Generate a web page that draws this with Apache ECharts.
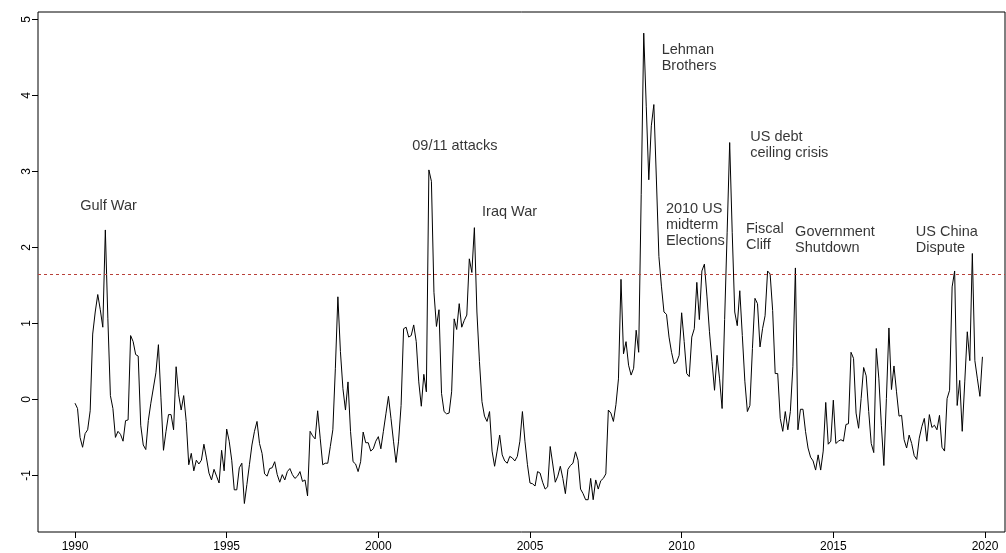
<!DOCTYPE html>
<html>
<head>
<meta charset="utf-8">
<script src="https://cdn.jsdelivr.net/npm/echarts@6/dist/echarts.min.js"></script>
<style>
  html, body { margin: 0; padding: 0; background: #fff; }
  #chart { width: 1006px; height: 553px; }
</style>
</head>
<body>
<div id="chart"></div>
<script>
// monthly index, Jan 1990 .. Dec 2019
var startYear = 1990;
var indexValues = [
  -0.05, -0.12, -0.5, -0.63, -0.45, -0.4, -0.15, 0.86, 1.15, 1.38, 1.18, 0.95,
  2.23, 1.06, 0.05, -0.12, -0.5, -0.42, -0.46, -0.55, -0.28, -0.27, 0.84, 0.76,
  0.59, 0.57, -0.34, -0.6, -0.66, -0.28, -0.05, 0.15, 0.35, 0.72, 0.02, -0.67,
  -0.42, -0.2, -0.2, -0.4, 0.43, 0.06, -0.14, 0.05, -0.29, -0.86, -0.71, -0.94,
  -0.8, -0.85, -0.8, -0.59, -0.77, -0.97, -1.06, -0.92, -1.01, -1.1, -0.67, -0.94,
  -0.39, -0.55, -0.8, -1.19, -1.19, -0.9, -0.84, -1.37, -1.12, -0.86, -0.6, -0.42,
  -0.29, -0.58, -0.71, -0.98, -1.01, -0.91, -0.9, -0.82, -0.99, -1.09, -0.99, -1.06,
  -0.95, -0.91, -0.99, -1.04, -1.01, -0.95, -1.08, -1.06, -1.27, -0.42, -0.48, -0.52,
  -0.15, -0.51, -0.86, -0.84, -0.84, -0.62, -0.4, 0.41, 1.35, 0.63, 0.14, -0.14,
  0.23, -0.42, -0.82, -0.85, -0.95, -0.82, -0.43, -0.57, -0.57, -0.68, -0.65, -0.55,
  -0.49, -0.65, -0.42, -0.19, 0.04, -0.25, -0.55, -0.83, -0.55, -0.08, 0.93, 0.95,
  0.82, 0.84, 0.98, 0.76, 0.23, -0.09, 0.33, 0.1, 3.02, 2.87, 1.41, 0.96,
  1.18, 0.08, -0.16, -0.19, -0.18, 0.1, 1.06, 0.92, 1.26, 0.95, 1.04, 1.11,
  1.85, 1.67, 2.26, 1.15, 0.5, -0.03, -0.22, -0.29, -0.16, -0.68, -0.88, -0.68,
  -0.47, -0.73, -0.81, -0.84, -0.75, -0.77, -0.81, -0.75, -0.55, -0.16, -0.55, -0.86,
  -1.1, -1.11, -1.14, -0.95, -0.97, -1.09, -1.18, -1.15, -0.62, -0.85, -1.09, -1.01,
  -0.88, -1.04, -1.24, -0.92, -0.87, -0.84, -0.69, -0.8, -1.18, -1.24, -1.32, -1.32,
  -1.04, -1.32, -1.06, -1.18, -1.07, -1.04, -0.98, -0.14, -0.18, -0.29, -0.07, 0.27,
  1.58, 0.6, 0.76, 0.45, 0.32, 0.41, 0.91, 0.62, 2.7, 4.82, 3.85, 2.89,
  3.6, 3.88, 2.9, 1.88, 1.49, 1.15, 1.12, 0.82, 0.62, 0.47, 0.49, 0.58,
  1.14, 0.76, 0.34, 0.3, 0.82, 0.93, 1.54, 1.05, 1.69, 1.78, 1.36, 0.89,
  0.5, 0.12, 0.58, 0.27, -0.12, 1.05, 2.2, 3.38, 2.2, 1.15, 0.97, 1.43,
  0.84, 0.24, -0.16, -0.08, 0.67, 1.33, 1.26, 0.69, 0.93, 1.1, 1.69, 1.65,
  1.17, 0.34, 0.34, -0.25, -0.42, -0.16, -0.4, -0.16, 0.43, 1.73, -0.4, -0.13,
  -0.13, -0.42, -0.64, -0.76, -0.81, -0.93, -0.73, -0.93, -0.68, -0.04, -0.59, -0.55,
  -0.01, -0.58, -0.55, -0.53, -0.55, -0.33, -0.32, 0.62, 0.54, -0.18, -0.38, 0.01,
  0.42, 0.31, -0.16, -0.58, -0.7, 0.67, 0.28, -0.34, -0.87, 0.01, 0.94, 0.13,
  0.44, 0.1, -0.22, -0.21, -0.53, -0.64, -0.47, -0.58, -0.74, -0.79, -0.51, -0.36,
  -0.25, -0.55, -0.2, -0.37, -0.34, -0.4, -0.21, -0.63, -0.68, 0.01, 0.12, 1.48,
  1.69, -0.08, 0.25, -0.42, 0.23, 0.89, 0.51, 1.92, 0.51, 0.27, 0.04, 0.56
];

var xTicks = [1990, 1995, 2000, 2005, 2010, 2015, 2020];
var yTicks = [-1, 0, 1, 2, 3, 4, 5];
var threshold = 1.645;

// event labels: text, year (left edge), level (middle of text)
var eventNames = ['Gulf War', '09/11 attacks', 'Iraq War', 'Lehman\nBrothers',
  '2010 US\nmidterm\nElections', 'US debt\nceiling crisis', 'Fiscal\nCliff',
  'Government\nShutdown', 'US China\nDispute'];
var eventYears = [1990.17, 2001.12, 2003.42, 2009.34, 2009.48, 2012.26, 2012.12, 2013.74, 2017.72];
var eventLevels = [2.54, 3.33, 2.46, 4.49, 2.29, 3.35, 2.14, 2.1, 2.1];

var fontName = '"Liberation Sans", Arial, Helvetica, sans-serif';

var lineData = [];
for (var i = 0; i < indexValues.length; i++) {
    lineData.push([startYear + i / 12, indexValues[i]]);
}
var eventData = [];
for (var j = 0; j < eventNames.length; j++) {
    eventData.push({ name: eventNames[j], value: [eventYears[j], eventLevels[j]] });
}

var chart = echarts.init(document.getElementById('chart'));
var option = {
    animation: false,
    grid: {
        left: 38, right: 1, top: 12, bottom: 18,
        show: true, borderColor: '#000', borderWidth: 1, backgroundColor: 'transparent'
    },
    xAxis: {
        type: 'value',
        min: 1988.78,
        max: 2020.66,
        splitLine: { show: false },
        axisLine: { show: false, onZero: false },
        axisTick: { show: true, length: 6, customValues: xTicks, lineStyle: { color: '#000' } },
        axisLabel: {
            customValues: xTicks, margin: 9, color: '#000',
            fontFamily: fontName, fontSize: 12,
            formatter: function (v) { return String(v); }
        }
    },
    yAxis: {
        type: 'value',
        min: -1.745,
        max: 5.098,
        splitLine: { show: false },
        axisLine: { show: false, onZero: false },
        axisTick: { show: true, length: 6, customValues: yTicks, lineStyle: { color: '#000' } },
        axisLabel: {
            customValues: yTicks, rotate: 90, margin: 5, color: '#000',
            fontFamily: fontName, fontSize: 12,
            formatter: function (v) { return String(v); }
        }
    },
    series: [
        {
            type: 'line',
            data: lineData,
            showSymbol: false,
            symbol: 'none',
            lineStyle: { color: '#000', width: 1 },
            markLine: {
                silent: true,
                symbol: 'none',
                label: { show: false },
                lineStyle: { color: '#b8413a', type: [3, 3], width: 1 },
                data: [{ yAxis: threshold }]
            }
        },
        {
            type: 'scatter',
            data: eventData,
            symbolSize: 0,
            silent: true,
            label: {
                show: true,
                formatter: '{b}',
                position: [0, 0],
                align: 'left',
                verticalAlign: 'middle',
                color: '#000',
                fontFamily: fontName,
                fontSize: 14.5,
                lineHeight: 16
            }
        }
    ]
};
chart.setOption(option);
</script>
</body>
</html>
